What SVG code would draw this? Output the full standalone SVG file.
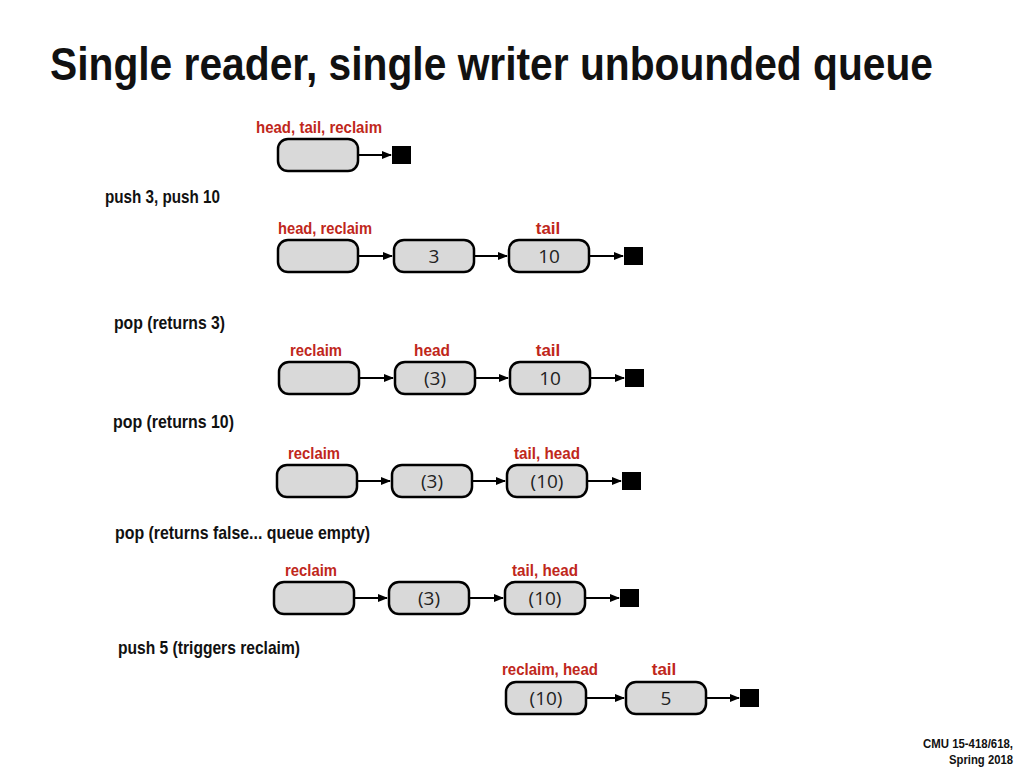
<svg xmlns="http://www.w3.org/2000/svg" width="1024" height="768" viewBox="0 0 1024 768">
<style>
.n{fill:#d9d9d9;stroke:#000;stroke-width:2.5}
.v{font-family:"Open Sans","Liberation Sans",sans-serif;font-size:19px;text-anchor:middle;fill:#222}
.r{font-family:"Liberation Sans",sans-serif;font-weight:bold;font-size:17px;fill:#c0271b;text-anchor:middle}
.b{font-family:"Liberation Sans",sans-serif;font-weight:bold;font-size:19px;fill:#111}
.c{stroke:#000;stroke-width:2;fill:none;marker-end:url(#a)}
</style>
<defs><marker id="a" markerWidth="10" markerHeight="8" refX="9" refY="4" orient="auto" markerUnits="userSpaceOnUse"><path d="M0,0L10,4L0,8z"/></marker></defs>
<rect width="1024" height="768" fill="#fff"/>
<text x="50" y="80" font-family="Liberation Sans,sans-serif" font-weight="bold" font-size="46" textLength="883" lengthAdjust="spacingAndGlyphs" fill="#111">Single reader, single writer unbounded queue</text>
<g id="labels">
<text class="r" x="319" y="133" textLength="126" lengthAdjust="spacingAndGlyphs">head, tail, reclaim</text>
<text class="b" x="105" y="203" textLength="115" lengthAdjust="spacingAndGlyphs">push 3, push 10</text>
<text class="r" x="325" y="234" textLength="94" lengthAdjust="spacingAndGlyphs">head, reclaim</text>
<text class="r" x="548" y="234">tail</text>
<text class="b" x="114" y="329" textLength="111" lengthAdjust="spacingAndGlyphs">pop (returns 3)</text>
<text class="r" x="316" y="356" textLength="52" lengthAdjust="spacingAndGlyphs">reclaim</text>
<text class="r" x="432" y="356" textLength="36" lengthAdjust="spacingAndGlyphs">head</text>
<text class="r" x="548" y="356">tail</text>
<text class="b" x="113" y="428" textLength="121" lengthAdjust="spacingAndGlyphs">pop (returns 10)</text>
<text class="r" x="314" y="459" textLength="52" lengthAdjust="spacingAndGlyphs">reclaim</text>
<text class="r" x="547" y="459" textLength="66" lengthAdjust="spacingAndGlyphs">tail, head</text>
<text class="b" x="115" y="539" textLength="255" lengthAdjust="spacingAndGlyphs">pop (returns false... queue empty)</text>
<text class="r" x="311" y="576" textLength="52" lengthAdjust="spacingAndGlyphs">reclaim</text>
<text class="r" x="545" y="576" textLength="66" lengthAdjust="spacingAndGlyphs">tail, head</text>
<text class="b" x="118" y="654" textLength="182" lengthAdjust="spacingAndGlyphs">push 5 (triggers reclaim)</text>
<text class="r" x="550" y="675" textLength="96" lengthAdjust="spacingAndGlyphs">reclaim, head</text>
<text class="r" x="664" y="675">tail</text>
<text font-family="Liberation Sans,sans-serif" font-weight="bold" font-size="13" text-anchor="end" fill="#111"><tspan x="1013" y="748" textLength="90" lengthAdjust="spacingAndGlyphs">CMU 15-418/618,</tspan><tspan x="1013" y="764" textLength="64" lengthAdjust="spacingAndGlyphs">Spring 2018</tspan></text>
</g>
<g id="r0"><rect class="n" x="278" y="139" width="80" height="32" rx="10"/><rect x="392" y="146" width="19" height="18"/></g>
<g id="r1">
<rect class="n" x="278" y="240" width="80" height="32" rx="10"/>
<rect class="n" x="394" y="240" width="80" height="32" rx="10"/><text class="v" x="434" y="263">3</text>
<rect class="n" x="509" y="240" width="80" height="32" rx="10"/><text class="v" x="549" y="263">10</text>
<rect x="624" y="247" width="19" height="18"/></g>
<g id="r2">
<rect class="n" x="279" y="362" width="80" height="32" rx="10"/>
<rect class="n" x="395" y="362" width="80" height="32" rx="10"/><text class="v" x="435" y="385">(3)</text>
<rect class="n" x="510" y="362" width="80" height="32" rx="10"/><text class="v" x="550" y="385">10</text>
<rect x="625" y="369" width="19" height="18"/></g>
<g id="r3">
<rect class="n" x="277" y="465" width="80" height="32" rx="10"/>
<rect class="n" x="392" y="465" width="80" height="32" rx="10"/><text class="v" x="432" y="488">(3)</text>
<rect class="n" x="507" y="465" width="80" height="32" rx="10"/><text class="v" x="547" y="488">(10)</text>
<rect x="622" y="472" width="19" height="18"/></g>
<g id="r4">
<rect class="n" x="274" y="582" width="80" height="32" rx="10"/>
<rect class="n" x="389" y="582" width="80" height="32" rx="10"/><text class="v" x="429" y="605">(3)</text>
<rect class="n" x="505" y="582" width="80" height="32" rx="10"/><text class="v" x="545" y="605">(10)</text>
<rect x="620" y="589" width="19" height="18"/></g>
<g id="r5">
<rect class="n" x="506" y="682" width="80" height="32" rx="10"/><text class="v" x="546" y="705">(10)</text>
<rect class="n" x="626" y="682" width="80" height="32" rx="10"/><text class="v" x="666" y="705">5</text>
<rect x="740" y="689" width="19" height="18"/></g>
<g id="connectors">
<path class="c" d="M359,155H391"/>
<path class="c" d="M359,256H392"/><path class="c" d="M475,256H507"/><path class="c" d="M590,256H623"/>
<path class="c" d="M360,378H393"/><path class="c" d="M476,378H508"/><path class="c" d="M591,378H624"/>
<path class="c" d="M358,481H390"/><path class="c" d="M473,481H505"/><path class="c" d="M588,481H621"/>
<path class="c" d="M355,598H387"/><path class="c" d="M470,598H503"/><path class="c" d="M586,598H619"/>
<path class="c" d="M587,698H624"/><path class="c" d="M707,698H739"/>
</g>
</svg>
